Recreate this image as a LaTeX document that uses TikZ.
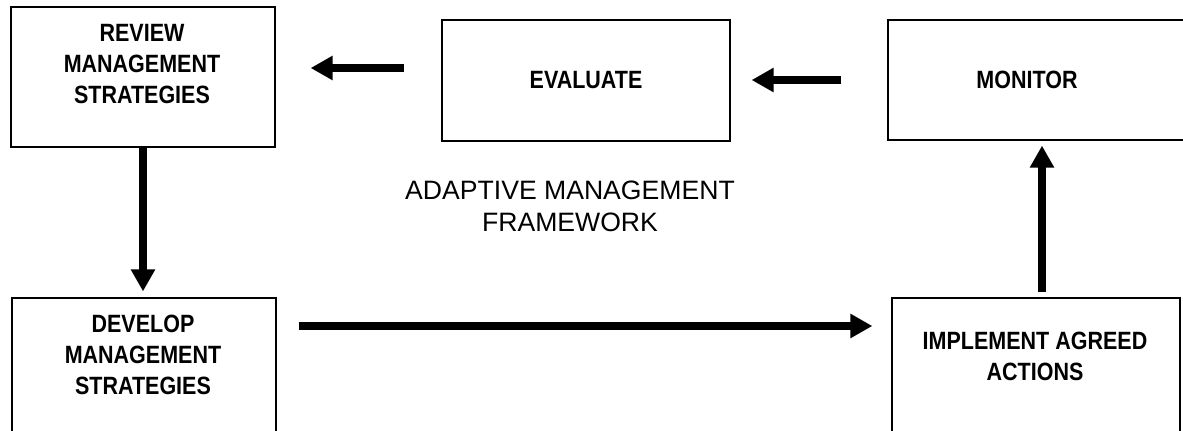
\documentclass[tikz,border=0pt]{standalone}
\usepackage{fontspec}
\setmainfont{Liberation Sans}
\newfontfamily\boxfont{Liberation Sans}[FakeStretch=0.86]
\usetikzlibrary{arrows.meta}

\tikzset{
  stage/.style={draw, line width=0.6pt, inner sep=0pt},
  stagetext/.style={align=center, font=\boxfont\bfseries\fontsize{12.5}{15.5}\selectfont},
  flow/.style={line width=4pt, -{Triangle[width=11.5pt,length=11pt]}}
}

\begin{document}
\begin{tikzpicture}[x=0.5pt,y=-0.5pt]

\useasboundingbox (0,0) rectangle (1183,430);

% Boxes
\node[stage, minimum width=132pt, minimum height=70pt] (review) at (143,77) {};
\node[stage, minimum width=144pt, minimum height=60.5pt] (evaluate) at (586,80.5) {};
\node[stage, minimum width=148pt, minimum height=60pt] (monitor) at (1036,80) {};
\node[stage, minimum width=132pt, minimum height=70pt] (develop) at (144,368) {};
\node[stage, minimum width=144pt, minimum height=70pt] (implement) at (1036,368) {};

% Box texts
\node[stagetext] (reviewtxt) at (142,64) {REVIEW\\MANAGEMENT\\STRATEGIES};
\node[stagetext] (evaluatetxt) at (586,80) {EVALUATE};
\node[stagetext] (monitortxt) at (1027,80) {MONITOR};
\node[stagetext] (developtxt) at (143,355) {DEVELOP\\MANAGEMENT\\STRATEGIES};
\node[stagetext] (implementtxt) at (1035,356) {IMPLEMENT AGREED\\ACTIONS};

% Title
\node[align=center, font=\fontsize{13.3}{16}\selectfont] (title) at (570,206)
    {ADAPTIVE MANAGEMENT\\FRAMEWORK};

% Arrows
\draw[flow, shorten <=18.5pt, shorten >=17.5pt]
    ([yshift=6.25pt]evaluate.west) -- ([yshift=6.25pt]evaluate.west -| review.east);
\draw[flow, shorten <=23pt, shorten >=10.5pt]
    (monitor.west) -- (monitor.west -| evaluate.east);
\draw[flow, shorten >=3pt]
    (review.south) -- (review.south |- develop.north);
\draw[flow, shorten <=11pt, shorten >=9.5pt]
    ([yshift=21pt]develop.east) -- ([yshift=21pt]develop.east -| implement.west);
\draw[flow, shorten <=2.5pt, shorten >=2.5pt]
    ([xshift=3pt]implement.north) -- ([xshift=3pt]implement.north |- monitor.south);

\end{tikzpicture}
\end{document}
